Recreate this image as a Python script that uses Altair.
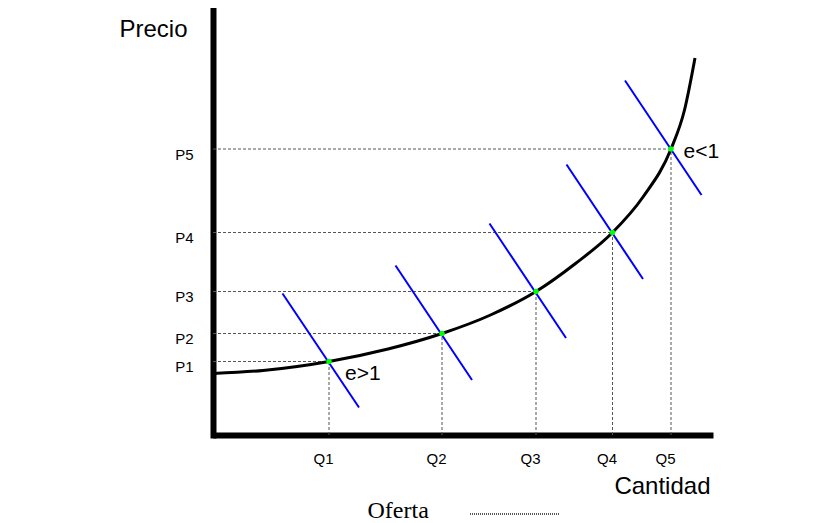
import json
import altair as alt
import pandas as pd

# ---- data (1 unit = 5 px) ----
q_labels = ["Q1", "Q2", "Q3", "Q4", "Q5"]
p_labels = ["P1", "P2", "P3", "P4", "P5"]
q_values = [23.2, 45.8, 64.6, 79.9, 91.6]
p_values = [14.7, 20.3, 28.7, 40.5, 57.2]

# supply curve (Oferta)
curve_x = [0, 10.0, 23.2, 35.0, 45.8, 55.5, 64.6, 72.5, 79.9, 86.0, 91.6, 94.3, 96.4]
curve_y = [12.3, 12.9, 14.7, 17.2, 20.3, 24.0, 28.7, 34.3, 40.5, 47.6, 57.2, 65.0, 75.4]

# blue demand lines (top end / bottom end)
blue_x_top = [13.9, 36.5, 55.3, 70.7, 82.4]
blue_y_top = [28.3, 33.9, 42.3, 54.1, 70.9]
blue_x_bot = [29.2, 51.8, 70.6, 86.0, 97.7]
blue_y_bot = [5.5, 11.0, 19.4, 31.2, 48.0]

# annotations
ann_text = ["e>1", "e<1"]
ann_x = [26.4, 94.1]
ann_y = [11.0, 55.5]

legend_label = "Oferta"
legend_text_x = 30.9
legend_text_y = -16.6
legend_line_x = [51.4, 69.2]
legend_line_y = -15.8

FONT = "Liberation Sans"

x_scale = alt.Scale(domain=[0, 100], nice=False, zero=False)
y_scale = alt.Scale(domain=[0, 85.4], nice=False, zero=False)

x_axis = alt.Axis(
    values=q_values,
    labelExpr="%s[indexof(%s, datum.value)]" % (json.dumps(q_labels), json.dumps(q_values)),
    title="Cantidad", titleX=497, titleY=58, titleAlign="right", titleBaseline="alphabetic",
    titleFont=FONT, titleFontSize=24, titleFontWeight="normal", titleColor="black",
    labelFont=FONT, labelFontSize=15, labelColor="black", labelPadding=16, labelOffset=-6,
    labelOverlap=False, labelFlush=False,
    ticks=False, tickSize=0, grid=False,
    domainColor="black", domainWidth=6,
)
y_axis = alt.Axis(
    values=p_values,
    labelExpr="%s[indexof(%s, datum.value)]" % (json.dumps(p_labels), json.dumps(p_values)),
    title="Precio", titleAngle=0, titleX=-60, titleY=28, titleAlign="center", titleBaseline="alphabetic",
    titleFont=FONT, titleFontSize=24, titleFontWeight="normal", titleColor="black",
    labelFont=FONT, labelFontSize=15, labelColor="black", labelPadding=20, labelBaseline="top",
    labelOffset=-2, labelOverlap=False, labelFlush=False,
    ticks=False, tickSize=0, grid=False,
    domainColor="black", domainWidth=6, domainCap="square",
)

pts = pd.DataFrame({"q": q_values, "p": p_values, "zero": [0] * 5})
curve = pd.DataFrame({"x": curve_x, "y": curve_y})
blue = pd.DataFrame({"x1": blue_x_top, "y1": blue_y_top, "x2": blue_x_bot, "y2": blue_y_bot})
ann = pd.DataFrame({"t": ann_text, "x": ann_x, "y": ann_y})
leg_text = pd.DataFrame({"t": [legend_label], "x": [legend_text_x], "y": [legend_text_y]})
leg_line = pd.DataFrame({"x1": [legend_line_x[0]], "x2": [legend_line_x[1]], "y": [legend_line_y]})


def X(f):
    return alt.X(f, type="quantitative", scale=x_scale, axis=x_axis)


def Y(f):
    return alt.Y(f, type="quantitative", scale=y_scale, axis=y_axis)


dash_style = dict(color="#555555", strokeWidth=1, strokeDash=[3, 2])

h_dash = alt.Chart(pts).mark_rule(**dash_style).encode(x=X("zero"), x2="q", y=Y("p"))
v_dash = alt.Chart(pts).mark_rule(**dash_style).encode(x=X("q"), y=Y("zero"), y2="p")

blue_lines = alt.Chart(blue).mark_rule(color="#0000ff", strokeWidth=2).encode(
    x=X("x1"), y=Y("y1"), x2="x2", y2="y2")

supply = alt.Chart(curve).mark_line(color="black", strokeWidth=3, interpolate="monotone").encode(
    x=X("x"), y=Y("y"))

dots = alt.Chart(pts).mark_circle(color="#00ff00", size=30, opacity=1).encode(x=X("q"), y=Y("p"))

ann_marks = alt.Chart(ann).mark_text(font=FONT, fontSize=21, align="left", baseline="alphabetic",
                                     color="black").encode(x=X("x"), y=Y("y"), text="t")

leg_t = alt.Chart(leg_text).mark_text(font="Liberation Serif", fontSize=24, align="left",
                                      baseline="alphabetic", color="black", clip=False).encode(
    x=X("x"), y=Y("y"), text="t")
leg_l = alt.Chart(leg_line).mark_rule(color="#222222", strokeWidth=1.5, strokeDash=[1, 1], clip=False).encode(
    x=X("x1"), x2="x2", y=Y("y"))

chart = alt.layer(h_dash, v_dash, blue_lines, supply, dots, ann_marks, leg_t, leg_l).properties(
    width=500, height=427,
    padding={"left": 205, "top": 0, "right": 119, "bottom": 88},
    autosize=alt.AutoSizeParams(type="none"),
    background="white",
).configure_view(stroke=None)

chart.save("out.html", embed_options={"renderer": "svg", "actions": False})
